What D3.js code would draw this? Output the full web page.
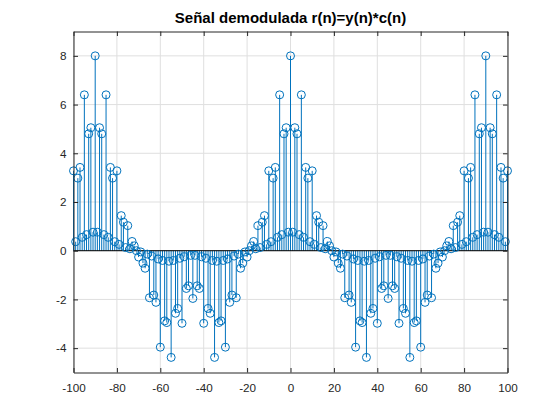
<!DOCTYPE html>
<html>
<head>
<meta charset="utf-8">
<script src="https://cdn.jsdelivr.net/npm/d3@7"></script>
<style>
  body { margin: 0; background: #fff; }
  svg { font-family: "Liberation Sans", Arial, sans-serif; }
  .asse text { font-size: 11.7px; fill: #262626; }
  .asse path, .asse line { stroke: #262626; }
</style>
</head>
<body>
<script>
"use strict"
/* indici n della sequenza (da -100 a 100) */
const indiciN = d3.range(-100, 101);
/* valori: r(n)=y(n)*c(n) */
const valoriR = [
  3.28, 0.37, 2.98, 3.42, 0.55, 6.40, 0.66, 4.80, 5.05, 0.76,
  8.00,
  0.76, 5.05, 4.80, 0.66, 6.40, 0.55, 3.42, 2.98, 0.37, 3.28, 0.26, 1.44, 1.17, 0.13, 1.03,
  0.08, 0.38, 0.20, 0.00, -0.26, -0.05, -0.51, -0.72, -0.14, -1.93, -0.22, -1.82, -2.12, -0.34,
  -3.96, -0.40, -2.88, -2.95, -0.43, -4.38, -0.40, -2.57, -2.37, -0.31, -2.98, -0.25, -1.55,
  -1.44, -0.19, -1.96,
  -0.19, -1.44, -1.55, -0.25, -2.98, -0.31, -2.37, -2.57, -0.40, -4.38, -0.43, -2.95, -2.88,
  -0.40, -3.96, -0.34, -2.12, -1.82, -0.22, -1.93, -0.14, -0.72, -0.51, -0.05, -0.26, 0.00,
  0.20, 0.38, 0.08, 1.03, 0.13, 1.17, 1.44, 0.26, 3.28, 0.37, 2.98, 3.42, 0.55, 6.40, 0.66,
  4.80, 5.05, 0.76,
  8.00,
  0.76, 5.05, 4.80, 0.66, 6.40, 0.55, 3.42, 2.98, 0.37, 3.28, 0.26, 1.44, 1.17, 0.13, 1.03,
  0.08, 0.38, 0.20, 0.00, -0.26, -0.05, -0.51, -0.72, -0.14, -1.93, -0.22, -1.82, -2.12, -0.34,
  -3.96, -0.40, -2.88, -2.95, -0.43, -4.38, -0.40, -2.57, -2.37, -0.31, -2.98, -0.25, -1.55,
  -1.44, -0.19, -1.96,
  -0.19, -1.44, -1.55, -0.25, -2.98, -0.31, -2.37, -2.57, -0.40, -4.38, -0.43, -2.95, -2.88,
  -0.40, -3.96, -0.34, -2.12, -1.82, -0.22, -1.93, -0.14, -0.72, -0.51, -0.05, -0.26, 0.00,
  0.20, 0.38, 0.08, 1.03, 0.13, 1.17, 1.44, 0.26, 3.28, 0.37, 2.98, 3.42, 0.55, 6.40, 0.66,
  4.80, 5.05, 0.76,
  8.00,
  0.76, 5.05, 4.80, 0.66, 6.40, 0.55, 3.42, 2.98, 0.37, 3.28
];
const tickX = [-100, -80, -60, -40, -20, 0, 20, 40, 60, 80, 100];
const tickY = [-4, -2, 0, 2, 4, 6, 8];
const dominioX = [-100, 100];
const dominioY = [-5, 9];
const titolo = "Señal demodulada r(n)=y(n)*c(n)";

/* misure in pixel */
const grafico = { larghezza: 560, altezza: 420 };
const margine = { sinistra: 73.5, destra: 52.5, alto: 31.5, basso: 47.5 };
const larghezzaAssi = grafico.larghezza - margine.sinistra - margine.destra;
const altezzaAssi = grafico.altezza - margine.alto - margine.basso;
const colore = "#0072BD";

const dati = indiciN.map(function (n, i) { return { n: n, r: valoriR[i] } });

const scalaX = d3.scaleLinear().domain(dominioX).range([0, larghezzaAssi]);
const scalaY = d3.scaleLinear().domain(dominioY).range([altezzaAssi, 0]);

const svg = d3.select("body").append("svg")
    .attr("width", grafico.larghezza)
    .attr("height", grafico.altezza);

const g = svg.append("g")
    .attr("transform", `translate(${margine.sinistra},${margine.alto})`);

/* griglia */
g.append("g").selectAll("line").data(tickX).enter().append("line")
    .attr("x1", function (d) { return scalaX(d) }).attr("x2", function (d) { return scalaX(d) })
    .attr("y1", 0).attr("y2", altezzaAssi)
    .attr("stroke", "#dfdfdf").attr("stroke-width", 1);
g.append("g").selectAll("line").data(tickY).enter().append("line")
    .attr("y1", function (d) { return scalaY(d) }).attr("y2", function (d) { return scalaY(d) })
    .attr("x1", 0).attr("x2", larghezzaAssi)
    .attr("stroke", "#dfdfdf").attr("stroke-width", 1);

/* steli */
g.append("g").selectAll("line").data(dati).enter().append("line")
    .attr("x1", function (d) { return scalaX(d.n) }).attr("x2", function (d) { return scalaX(d.n) })
    .attr("y1", scalaY(0)).attr("y2", function (d) { return scalaY(d.r) })
    .attr("stroke", colore).attr("stroke-width", 1);

/* linea di base */
g.append("line")
    .attr("x1", scalaX(dominioX[0])).attr("x2", scalaX(dominioX[1]))
    .attr("y1", scalaY(0)).attr("y2", scalaY(0))
    .attr("stroke", "#000").attr("stroke-width", 1);

/* cerchietti */
g.append("g").selectAll("circle").data(dati).enter().append("circle")
    .attr("cx", function (d) { return scalaX(d.n) })
    .attr("cy", function (d) { return scalaY(d.r) })
    .attr("r", 4)
    .attr("fill", "none").attr("stroke", colore).attr("stroke-width", 1);

/* assi con tacche verso l'interno */
const asseBasso = d3.axisBottom(scalaX).tickValues(tickX).tickSizeInner(-4.5).tickSizeOuter(0).tickPadding(11);
const asseSinistro = d3.axisLeft(scalaY).tickValues(tickY).tickSizeInner(-4.5).tickSizeOuter(0).tickPadding(7);
const asseAlto = d3.axisTop(scalaX).tickValues(tickX).tickSizeInner(-4.5).tickSizeOuter(0).tickFormat("");
const asseDestro = d3.axisRight(scalaY).tickValues(tickY).tickSizeInner(-4.5).tickSizeOuter(0).tickFormat("");

g.append("g").attr("class", "asse").attr("transform", `translate(0,${altezzaAssi})`).call(asseBasso);
g.append("g").attr("class", "asse").call(asseSinistro);
g.append("g").attr("class", "asse").call(asseAlto);
g.append("g").attr("class", "asse").attr("transform", `translate(${larghezzaAssi},0)`).call(asseDestro);

/* segno meno come trattino semplice */
g.selectAll(".asse text").text(function () { return d3.select(this).text().replace("−", "-") });

/* titolo */
svg.append("text")
    .attr("x", margine.sinistra + larghezzaAssi / 2)
    .attr("y", 23)
    .attr("text-anchor", "middle")
    .attr("font-weight", "bold")
    .attr("font-size", "15px")
    .attr("fill", "#000")
    .text(titolo);
</script>
</body>
</html>
